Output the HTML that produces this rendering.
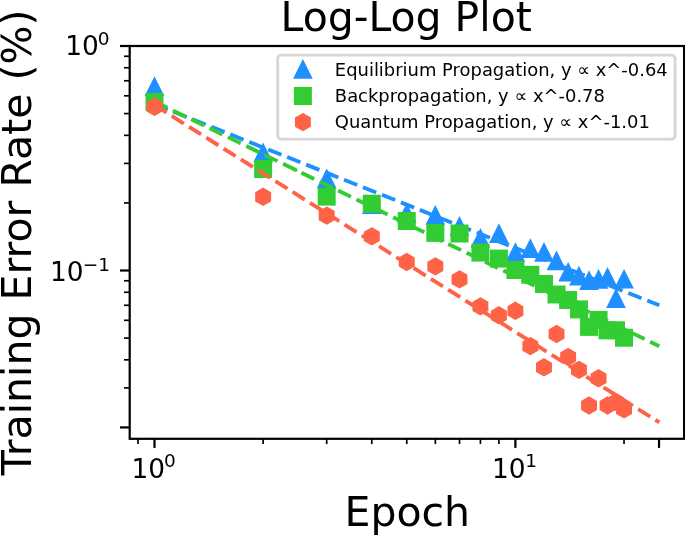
<!DOCTYPE html>
<html><head><meta charset="utf-8"><title>Log-Log Plot</title>
<style>html,body{margin:0;padding:0;background:#fff}svg{display:block}</style></head>
<body>
<svg width="685" height="535" viewBox="0 0 685 535">
<rect width="685" height="535" fill="#fff"/>
<defs><clipPath id="ax"><rect x="129.70" y="46.00" width="554.40" height="392.80"/></clipPath></defs>
<g clip-path="url(#ax)">
<polygon points="154.50,79.30 146.90,94.50 162.10,94.50" fill="#1E90FF" stroke="#1E90FF" stroke-width="2.78" stroke-linejoin="miter" stroke-miterlimit="10"/>
<polygon points="263.14,145.70 255.54,160.90 270.74,160.90" fill="#1E90FF" stroke="#1E90FF" stroke-width="2.78" stroke-linejoin="miter" stroke-miterlimit="10"/>
<polygon points="326.69,171.70 319.09,186.90 334.29,186.90" fill="#1E90FF" stroke="#1E90FF" stroke-width="2.78" stroke-linejoin="miter" stroke-miterlimit="10"/>
<polygon points="371.78,197.50 364.18,212.70 379.38,212.70" fill="#1E90FF" stroke="#1E90FF" stroke-width="2.78" stroke-linejoin="miter" stroke-miterlimit="10"/>
<polygon points="406.76,206.00 399.16,221.20 414.36,221.20" fill="#1E90FF" stroke="#1E90FF" stroke-width="2.78" stroke-linejoin="miter" stroke-miterlimit="10"/>
<polygon points="435.33,208.20 427.73,223.40 442.93,223.40" fill="#1E90FF" stroke="#1E90FF" stroke-width="2.78" stroke-linejoin="miter" stroke-miterlimit="10"/>
<polygon points="459.50,219.10 451.90,234.30 467.10,234.30" fill="#1E90FF" stroke="#1E90FF" stroke-width="2.78" stroke-linejoin="miter" stroke-miterlimit="10"/>
<polygon points="480.43,231.00 472.83,246.20 488.03,246.20" fill="#1E90FF" stroke="#1E90FF" stroke-width="2.78" stroke-linejoin="miter" stroke-miterlimit="10"/>
<polygon points="498.89,226.30 491.29,241.50 506.49,241.50" fill="#1E90FF" stroke="#1E90FF" stroke-width="2.78" stroke-linejoin="miter" stroke-miterlimit="10"/>
<polygon points="515.40,245.30 507.80,260.50 523.00,260.50" fill="#1E90FF" stroke="#1E90FF" stroke-width="2.78" stroke-linejoin="miter" stroke-miterlimit="10"/>
<polygon points="530.34,241.40 522.74,256.60 537.94,256.60" fill="#1E90FF" stroke="#1E90FF" stroke-width="2.78" stroke-linejoin="miter" stroke-miterlimit="10"/>
<polygon points="543.98,245.10 536.38,260.30 551.58,260.30" fill="#1E90FF" stroke="#1E90FF" stroke-width="2.78" stroke-linejoin="miter" stroke-miterlimit="10"/>
<polygon points="556.52,253.60 548.92,268.80 564.12,268.80" fill="#1E90FF" stroke="#1E90FF" stroke-width="2.78" stroke-linejoin="miter" stroke-miterlimit="10"/>
<polygon points="568.14,265.00 560.54,280.20 575.74,280.20" fill="#1E90FF" stroke="#1E90FF" stroke-width="2.78" stroke-linejoin="miter" stroke-miterlimit="10"/>
<polygon points="578.95,268.90 571.35,284.10 586.55,284.10" fill="#1E90FF" stroke="#1E90FF" stroke-width="2.78" stroke-linejoin="miter" stroke-miterlimit="10"/>
<polygon points="589.07,273.40 581.47,288.60 596.67,288.60" fill="#1E90FF" stroke="#1E90FF" stroke-width="2.78" stroke-linejoin="miter" stroke-miterlimit="10"/>
<polygon points="598.57,272.20 590.97,287.40 606.17,287.40" fill="#1E90FF" stroke="#1E90FF" stroke-width="2.78" stroke-linejoin="miter" stroke-miterlimit="10"/>
<polygon points="607.53,270.10 599.93,285.30 615.13,285.30" fill="#1E90FF" stroke="#1E90FF" stroke-width="2.78" stroke-linejoin="miter" stroke-miterlimit="10"/>
<polygon points="616.00,291.30 608.40,306.50 623.60,306.50" fill="#1E90FF" stroke="#1E90FF" stroke-width="2.78" stroke-linejoin="miter" stroke-miterlimit="10"/>
<polygon points="624.04,272.00 616.44,287.20 631.64,287.20" fill="#1E90FF" stroke="#1E90FF" stroke-width="2.78" stroke-linejoin="miter" stroke-miterlimit="10"/>
<line x1="154.50" y1="104.20" x2="659.30" y2="305.30" stroke="#1E90FF" stroke-width="3.85" stroke-dasharray="14.24 6.16"/>
<rect x="145.51" y="93.01" width="17.98" height="17.98" fill="#32CD32"/>
<rect x="254.15" y="160.01" width="17.98" height="17.98" fill="#32CD32"/>
<rect x="317.70" y="187.61" width="17.98" height="17.98" fill="#32CD32"/>
<rect x="362.79" y="194.71" width="17.98" height="17.98" fill="#32CD32"/>
<rect x="397.77" y="212.01" width="17.98" height="17.98" fill="#32CD32"/>
<rect x="426.34" y="223.91" width="17.98" height="17.98" fill="#32CD32"/>
<rect x="450.51" y="224.51" width="17.98" height="17.98" fill="#32CD32"/>
<rect x="471.44" y="243.61" width="17.98" height="17.98" fill="#32CD32"/>
<rect x="489.90" y="249.61" width="17.98" height="17.98" fill="#32CD32"/>
<rect x="506.41" y="261.01" width="17.98" height="17.98" fill="#32CD32"/>
<rect x="521.35" y="265.81" width="17.98" height="17.98" fill="#32CD32"/>
<rect x="534.99" y="275.01" width="17.98" height="17.98" fill="#32CD32"/>
<rect x="547.53" y="285.51" width="17.98" height="17.98" fill="#32CD32"/>
<rect x="559.15" y="291.01" width="17.98" height="17.98" fill="#32CD32"/>
<rect x="569.96" y="300.41" width="17.98" height="17.98" fill="#32CD32"/>
<rect x="580.08" y="317.91" width="17.98" height="17.98" fill="#32CD32"/>
<rect x="589.58" y="310.91" width="17.98" height="17.98" fill="#32CD32"/>
<rect x="598.54" y="321.31" width="17.98" height="17.98" fill="#32CD32"/>
<rect x="607.01" y="321.31" width="17.98" height="17.98" fill="#32CD32"/>
<rect x="615.05" y="328.71" width="17.98" height="17.98" fill="#32CD32"/>
<line x1="154.50" y1="101.55" x2="659.30" y2="346.20" stroke="#32CD32" stroke-width="3.85" stroke-dasharray="14.24 6.16"/>
<polygon points="154.50,99.20 161.08,103.00 161.08,110.60 154.50,114.40 147.92,110.60 147.92,103.00" fill="#FF6347" stroke="#FF6347" stroke-width="2.78" stroke-linejoin="miter"/>
<polygon points="263.14,189.20 269.72,193.00 269.72,200.60 263.14,204.40 256.56,200.60 256.56,193.00" fill="#FF6347" stroke="#FF6347" stroke-width="2.78" stroke-linejoin="miter"/>
<polygon points="326.69,208.00 333.27,211.80 333.27,219.40 326.69,223.20 320.11,219.40 320.11,211.80" fill="#FF6347" stroke="#FF6347" stroke-width="2.78" stroke-linejoin="miter"/>
<polygon points="371.78,228.80 378.37,232.60 378.37,240.20 371.78,244.00 365.20,240.20 365.20,232.60" fill="#FF6347" stroke="#FF6347" stroke-width="2.78" stroke-linejoin="miter"/>
<polygon points="406.76,254.40 413.34,258.20 413.34,265.80 406.76,269.60 400.18,265.80 400.18,258.20" fill="#FF6347" stroke="#FF6347" stroke-width="2.78" stroke-linejoin="miter"/>
<polygon points="435.33,258.80 441.92,262.60 441.92,270.20 435.33,274.00 428.75,270.20 428.75,262.60" fill="#FF6347" stroke="#FF6347" stroke-width="2.78" stroke-linejoin="miter"/>
<polygon points="459.50,271.80 466.08,275.60 466.08,283.20 459.50,287.00 452.91,283.20 452.91,275.60" fill="#FF6347" stroke="#FF6347" stroke-width="2.78" stroke-linejoin="miter"/>
<polygon points="480.43,298.80 487.01,302.60 487.01,310.20 480.43,314.00 473.84,310.20 473.84,302.60" fill="#FF6347" stroke="#FF6347" stroke-width="2.78" stroke-linejoin="miter"/>
<polygon points="498.89,307.70 505.47,311.50 505.47,319.10 498.89,322.90 492.30,319.10 492.30,311.50" fill="#FF6347" stroke="#FF6347" stroke-width="2.78" stroke-linejoin="miter"/>
<polygon points="515.40,303.20 521.98,307.00 521.98,314.60 515.40,318.40 508.82,314.60 508.82,307.00" fill="#FF6347" stroke="#FF6347" stroke-width="2.78" stroke-linejoin="miter"/>
<polygon points="530.34,338.50 536.92,342.30 536.92,349.90 530.34,353.70 523.76,349.90 523.76,342.30" fill="#FF6347" stroke="#FF6347" stroke-width="2.78" stroke-linejoin="miter"/>
<polygon points="543.98,359.70 550.56,363.50 550.56,371.10 543.98,374.90 537.39,371.10 537.39,363.50" fill="#FF6347" stroke="#FF6347" stroke-width="2.78" stroke-linejoin="miter"/>
<polygon points="556.52,326.40 563.10,330.20 563.10,337.80 556.52,341.60 549.94,337.80 549.94,330.20" fill="#FF6347" stroke="#FF6347" stroke-width="2.78" stroke-linejoin="miter"/>
<polygon points="568.14,349.40 574.72,353.20 574.72,360.80 568.14,364.60 561.56,360.80 561.56,353.20" fill="#FF6347" stroke="#FF6347" stroke-width="2.78" stroke-linejoin="miter"/>
<polygon points="578.95,362.30 585.53,366.10 585.53,373.70 578.95,377.50 572.37,373.70 572.37,366.10" fill="#FF6347" stroke="#FF6347" stroke-width="2.78" stroke-linejoin="miter"/>
<polygon points="589.07,397.90 595.65,401.70 595.65,409.30 589.07,413.10 582.49,409.30 582.49,401.70" fill="#FF6347" stroke="#FF6347" stroke-width="2.78" stroke-linejoin="miter"/>
<polygon points="598.57,370.70 605.15,374.50 605.15,382.10 598.57,385.90 591.99,382.10 591.99,374.50" fill="#FF6347" stroke="#FF6347" stroke-width="2.78" stroke-linejoin="miter"/>
<polygon points="607.53,397.90 614.11,401.70 614.11,409.30 607.53,413.10 600.95,409.30 600.95,401.70" fill="#FF6347" stroke="#FF6347" stroke-width="2.78" stroke-linejoin="miter"/>
<polygon points="616.00,394.40 622.58,398.20 622.58,405.80 616.00,409.60 609.42,405.80 609.42,398.20" fill="#FF6347" stroke="#FF6347" stroke-width="2.78" stroke-linejoin="miter"/>
<polygon points="624.04,401.70 630.62,405.50 630.62,413.10 624.04,416.90 617.46,413.10 617.46,405.50" fill="#FF6347" stroke="#FF6347" stroke-width="2.78" stroke-linejoin="miter"/>
<line x1="154.50" y1="105.10" x2="659.30" y2="422.40" stroke="#FF6347" stroke-width="3.85" stroke-dasharray="14.24 6.16"/>
<circle cx="295.6" cy="169.95" r="1.9" fill="#32CD32"/>
</g>
<line x1="120.00" y1="46.00" x2="129.70" y2="46.00" stroke="#000" stroke-width="2.22"/>
<line x1="120.00" y1="270.50" x2="129.70" y2="270.50" stroke="#000" stroke-width="2.22"/>
<line x1="120.00" y1="427.42" x2="129.70" y2="427.42" stroke="#000" stroke-width="2.22"/>
<line x1="124.00" y1="56.27" x2="129.70" y2="56.27" stroke="#000" stroke-width="1.67"/>
<line x1="124.00" y1="67.76" x2="129.70" y2="67.76" stroke="#000" stroke-width="1.67"/>
<line x1="124.00" y1="80.78" x2="129.70" y2="80.78" stroke="#000" stroke-width="1.67"/>
<line x1="124.00" y1="95.81" x2="129.70" y2="95.81" stroke="#000" stroke-width="1.67"/>
<line x1="124.00" y1="113.58" x2="129.70" y2="113.58" stroke="#000" stroke-width="1.67"/>
<line x1="124.00" y1="135.34" x2="129.70" y2="135.34" stroke="#000" stroke-width="1.67"/>
<line x1="124.00" y1="163.39" x2="129.70" y2="163.39" stroke="#000" stroke-width="1.67"/>
<line x1="124.00" y1="202.92" x2="129.70" y2="202.92" stroke="#000" stroke-width="1.67"/>
<line x1="124.00" y1="280.77" x2="129.70" y2="280.77" stroke="#000" stroke-width="1.67"/>
<line x1="124.00" y1="292.26" x2="129.70" y2="292.26" stroke="#000" stroke-width="1.67"/>
<line x1="124.00" y1="305.28" x2="129.70" y2="305.28" stroke="#000" stroke-width="1.67"/>
<line x1="124.00" y1="320.31" x2="129.70" y2="320.31" stroke="#000" stroke-width="1.67"/>
<line x1="124.00" y1="338.08" x2="129.70" y2="338.08" stroke="#000" stroke-width="1.67"/>
<line x1="124.00" y1="359.84" x2="129.70" y2="359.84" stroke="#000" stroke-width="1.67"/>
<line x1="124.00" y1="387.89" x2="129.70" y2="387.89" stroke="#000" stroke-width="1.67"/>
<line x1="154.50" y1="438.80" x2="154.50" y2="447.90" stroke="#000" stroke-width="2.22"/>
<line x1="515.40" y1="438.80" x2="515.40" y2="447.90" stroke="#000" stroke-width="2.22"/>
<line x1="659.02" y1="438.80" x2="659.02" y2="447.90" stroke="#000" stroke-width="2.22"/>
<line x1="137.99" y1="438.80" x2="137.99" y2="444.10" stroke="#000" stroke-width="1.67"/>
<line x1="263.14" y1="438.80" x2="263.14" y2="444.10" stroke="#000" stroke-width="1.67"/>
<line x1="326.69" y1="438.80" x2="326.69" y2="444.10" stroke="#000" stroke-width="1.67"/>
<line x1="371.78" y1="438.80" x2="371.78" y2="444.10" stroke="#000" stroke-width="1.67"/>
<line x1="406.76" y1="438.80" x2="406.76" y2="444.10" stroke="#000" stroke-width="1.67"/>
<line x1="435.33" y1="438.80" x2="435.33" y2="444.10" stroke="#000" stroke-width="1.67"/>
<line x1="459.50" y1="438.80" x2="459.50" y2="444.10" stroke="#000" stroke-width="1.67"/>
<line x1="480.43" y1="438.80" x2="480.43" y2="444.10" stroke="#000" stroke-width="1.67"/>
<line x1="498.89" y1="438.80" x2="498.89" y2="444.10" stroke="#000" stroke-width="1.67"/>
<line x1="624.04" y1="438.80" x2="624.04" y2="444.10" stroke="#000" stroke-width="1.67"/>
<rect x="129.70" y="46.00" width="554.40" height="392.80" fill="none" stroke="#000" stroke-width="2.22"/>
<rect x="277.7" y="55.2" width="397.4" height="84" rx="3.6" ry="3.6" fill="#fff" fill-opacity="0.8" stroke="#ccc" stroke-opacity="0.8" stroke-width="2.78"/>
<polygon points="302.90,62.20 295.30,77.40 310.50,77.40" fill="#1E90FF" stroke="#1E90FF" stroke-width="2.78" stroke-linejoin="miter" stroke-miterlimit="10"/>
<rect x="293.91" y="87.01" width="17.98" height="17.98" fill="#32CD32"/>
<polygon points="302.90,114.50 309.48,118.30 309.48,125.90 302.90,129.70 296.32,125.90 296.32,118.30" fill="#FF6347" stroke="#FF6347" stroke-width="2.78" stroke-linejoin="miter"/>
<text id="leg0" x="334.85" y="75.70" font-family="DejaVu Sans, Liberation Sans, sans-serif" font-size="17.93" fill="#000">Equilibrium Propagation, y ∝ x^-0.64</text>
<text id="leg1" x="334.85" y="102.00" font-family="DejaVu Sans, Liberation Sans, sans-serif" font-size="17.93" fill="#000">Backpropagation, y ∝ x^-0.78</text>
<text id="leg2" x="334.85" y="128.20" font-family="DejaVu Sans, Liberation Sans, sans-serif" font-size="17.93" fill="#000">Quantum Propagation, y ∝ x^-1.01</text>
<text id="ty0" x="65.15" y="55.40" font-family="DejaVu Sans, Liberation Sans, sans-serif" font-size="26.40" fill="#000">10<tspan font-size="18.50" dy="-10.20" dx="-0.95">0</tspan></text>
<text id="ty1" x="49.95" y="280.60" font-family="DejaVu Sans, Liberation Sans, sans-serif" font-size="26.40" fill="#000">10<tspan font-size="18.50" dy="-9.90" dx="-0.90">−1</tspan></text>
<text id="tx0" x="131.55" y="477.50" font-family="DejaVu Sans, Liberation Sans, sans-serif" font-size="26.40" fill="#000">10<tspan font-size="18.50" dy="-10.50" dx="-1.05">0</tspan></text>
<text id="tx1" x="492.05" y="477.50" font-family="DejaVu Sans, Liberation Sans, sans-serif" font-size="26.40" fill="#000">10<tspan font-size="18.50" dy="-10.40" dx="-0.30">1</tspan></text>
<text id="title" x="280.55" y="30.7" font-family="DejaVu Sans, Liberation Sans, sans-serif" font-size="40.95" fill="#000">Log-Log Plot</text>
<text id="xl" x="344.5" y="525.5" font-family="DejaVu Sans, Liberation Sans, sans-serif" font-size="41" fill="#000">Epoch</text>
<text id="yl" transform="translate(31.4 242.4) rotate(-90)" text-anchor="middle" font-family="DejaVu Sans, Liberation Sans, sans-serif" font-size="41" fill="#000">Training Error Rate (%)</text>
</svg>
</body></html>
